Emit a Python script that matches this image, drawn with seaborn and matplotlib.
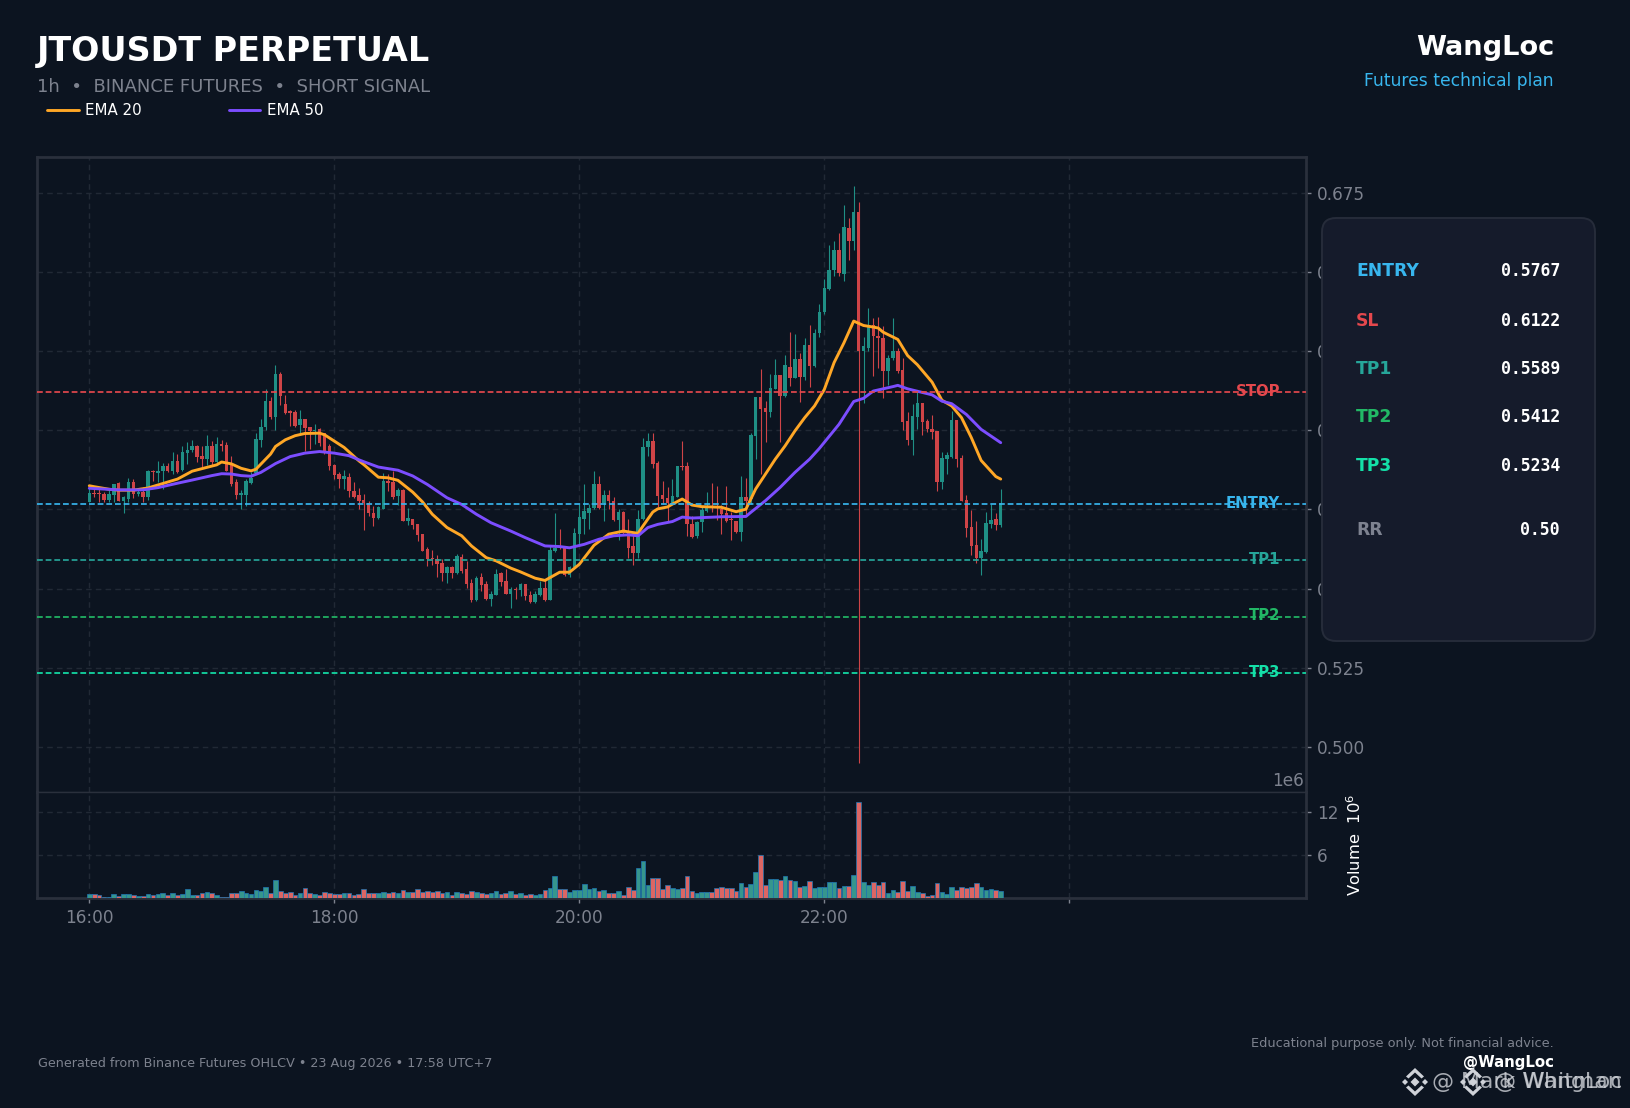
# JTOUSDT perpetual short signal chart (candles, EMA, volume, trade levels)
import numpy as np
import pandas as pd
import matplotlib.pyplot as plt
import seaborn as sns
from matplotlib.patches import FancyBboxPatch, Polygon
from matplotlib.transforms import IdentityTransform

# Candles, one value per bar
opens = [.5775,.5802,.5802,.5799,.5781,.5796,.5833,.5777,.5783,.5836,.5800,.5806,.5789,.5871,.5865,.5871,.5888,.5873,.5903,.5875,
         .5928,.5937,.5950,.5920,.5909,.5950,.5899,.5956,.5953,.5890,.5836,.5796,.5796,.5833,.5865,.5970,.6010,.6092,.6043,.6177,
         .6082,.6060,.6058,.6016,.6035,.6010,.5997,.6003,.5991,.5951,.5890,.5862,.5846,.5852,.5808,.5796,.5779,.5772,.5740,.5722,
         .5753,.5840,.5837,.5792,.5813,.5713,.5719,.5703,.5672,.5624,.5598,.5593,.5580,.5549,.5568,.5549,.5601,.5561,.5517,.5463,
         .5536,.5514,.5467,.5481,.5549,.5523,.5484,.5498,.5496,.5514,.5480,.5457,.5481,.5502,.5464,.5618,.5630,.5630,.5543,.5570,
         .5672,.5721,.5740,.5754,.5829,.5772,.5795,.5778,.5716,.5743,.5682,.5635,.5612,.5719,.5946,.5965,.5897,.5796,.5786,.5772,
         .5789,.5886,.5886,.5704,.5667,.5709,.5746,.5757,.5757,.5752,.5739,.5720,.5713,.5680,.5788,.5783,.5983,.6106,.6072,.6058,
         .6132,.6174,.6108,.6201,.6165,.6224,.6167,.6268,.6203,.6307,.6373,.6445,.6505,.6570,.6495,.6640,.6597,.6688,.6250,.6261,
         .6331,.6299,.6292,.6187,.6227,.6249,.6189,.6028,.5969,.6041,.6085,.6028,.6005,.5998,.5837,.5908,.5916,.6034,.5912,.5779,
         .5694,.5638,.5596,.5615,.5704,.5719,.5701]
closes = [.5802,.5798,.5798,.5781,.5799,.5832,.5777,.5789,.5836,.5799,.5804,.5789,.5871,.5867,.5871,.5887,.5873,.5903,.5869,.5931,
          .5939,.5950,.5915,.5909,.5950,.5899,.5956,.5950,.5872,.5830,.5796,.5802,.5841,.5851,.5972,.6010,.6092,.6041,.6177,.6109,
          .6056,.6056,.6014,.6035,.6006,.5998,.6001,.5959,.5935,.5888,.5859,.5846,.5857,.5808,.5791,.5778,.5772,.5738,.5723,.5757,
          .5840,.5834,.5790,.5813,.5713,.5722,.5700,.5669,.5620,.5595,.5593,.5578,.5549,.5568,.5549,.5603,.5557,.5514,.5463,.5534,
          .5511,.5467,.5483,.5546,.5522,.5484,.5498,.5495,.5514,.5477,.5457,.5483,.5502,.5463,.5622,.5628,.5627,.5543,.5570,.5675,
          .5725,.5744,.5756,.5829,.5756,.5795,.5776,.5717,.5743,.5677,.5630,.5612,.5719,.5948,.5965,.5895,.5793,.5783,.5772,.5793,
          .5886,.5884,.5705,.5664,.5709,.5748,.5757,.5755,.5754,.5736,.5715,.5717,.5678,.5788,.5778,.5985,.6106,.6066,.6058,.6135,
          .6174,.6108,.6205,.6165,.6224,.6167,.6268,.6203,.6308,.6375,.6448,.6507,.6570,.6497,.6643,.6597,.6688,.6250,.6265,.6326,
          .6297,.6291,.6187,.6229,.6249,.6186,.6026,.5969,.6044,.6085,.6026,.6003,.5995,.5837,.5912,.5921,.6034,.5908,.5777,.5692,
          .5636,.5596,.5619,.5707,.5716,.5701,.5770]
highs = [.5825,.5815,.5815,.5804,.5815,.5832,.5836,.5794,.5851,.5846,.5817,.5820,.5875,.5875,.5902,.5896,.5896,.5932,.5925,.5949,
         .5964,.5971,.5953,.5949,.5986,.5967,.5979,.5970,.5962,.5920,.5846,.5811,.5846,.5867,.5990,.6035,.6130,.6106,.6205,.6184,
         .6111,.6064,.6064,.6064,.6037,.6012,.6019,.6006,.5993,.5956,.5893,.5867,.5874,.5865,.5838,.5817,.5798,.5777,.5761,.5761,
         .5866,.5863,.5871,.5819,.5816,.5756,.5721,.5705,.5674,.5633,.5621,.5606,.5593,.5572,.5572,.5611,.5609,.5588,.5530,.5540,
         .5549,.5525,.5493,.5562,.5553,.5561,.5504,.5504,.5517,.5516,.5493,.5493,.5525,.5530,.5635,.5740,.5688,.5635,.5572,.5693,
         .5766,.5829,.5766,.5871,.5855,.5813,.5811,.5790,.5750,.5744,.5719,.5677,.5748,.5976,.5990,.5992,.5903,.5841,.5820,.5846,
         .5886,.5967,.5901,.5730,.5715,.5762,.5804,.5833,.5823,.5763,.5823,.5741,.5715,.5856,.5849,.5993,.6106,.6195,.6093,.6179,
         .6226,.6174,.6239,.6311,.6303,.6245,.6292,.6334,.6321,.6399,.6478,.6585,.6598,.6623,.6711,.6671,.6770,.6721,.6295,.6386,
         .6355,.6358,.6328,.6239,.6355,.6260,.6229,.6059,.6084,.6124,.6087,.6037,.6047,.5999,.5932,.5930,.6061,.6034,.5921,.5795,
         .5749,.5713,.5657,.5741,.5766,.5738,.5814]
lows = [.5775,.5791,.5773,.5773,.5773,.5773,.5777,.5739,.5775,.5785,.5793,.5775,.5779,.5841,.5836,.5815,.5867,.5863,.5865,.5871,
        .5894,.5930,.5901,.5883,.5890,.5890,.5894,.5934,.5872,.5825,.5783,.5752,.5760,.5830,.5862,.5946,.6001,.6035,.6001,.6079,
        .6051,.6014,.6010,.5993,.5935,.5940,.5956,.5951,.5925,.5875,.5846,.5817,.5815,.5791,.5785,.5752,.5685,.5730,.5698,.5719,
        .5750,.5808,.5784,.5763,.5713,.5700,.5688,.5650,.5618,.5572,.5574,.5536,.5524,.5517,.5535,.5547,.5551,.5501,.5457,.5462,
        .5493,.5464,.5444,.5480,.5509,.5482,.5438,.5467,.5477,.5465,.5454,.5454,.5478,.5461,.5463,.5616,.5625,.5540,.5538,.5568,
        .5640,.5672,.5688,.5753,.5750,.5714,.5750,.5714,.5654,.5672,.5597,.5576,.5597,.5716,.5919,.5882,.5759,.5767,.5712,.5767,
        .5788,.5875,.5665,.5659,.5659,.5678,.5743,.5741,.5718,.5673,.5709,.5655,.5675,.5652,.5736,.5767,.5911,.5862,.5964,.6043,
        .6132,.5964,.6106,.6140,.6164,.6090,.6158,.6138,.6201,.6295,.6366,.6442,.6486,.6486,.6471,.6539,.6568,.4950,.6087,.6250,
        .6173,.6197,.6103,.6142,.6221,.6182,.6001,.5953,.5922,.6003,.5985,.5995,.5974,.5807,.5816,.5863,.5914,.5885,.5776,.5664,
        .5606,.5581,.5544,.5614,.5692,.5686,.5696]
volume_m = [.56,.51,.37,.09,.09,.51,.28,.51,.51,.37,.23,.23,.51,.37,.51,.65,.42,.65,.37,.51,
            1.21,.37,.37,.65,.79,.65,.37,.19,.19,.65,.65,.93,.65,.51,1.07,.93,1.49,.65,2.47,.93,
            .65,.79,.37,.65,1.35,.65,.51,.37,.79,.65,.51,.51,.65,.65,.37,.51,1.21,.65,.65,.65,
            .79,.65,.79,.65,1.07,.79,.79,1.21,.79,.93,.79,.93,.65,.79,.37,.79,.65,.51,.93,.79,
            .65,.51,.65,.93,.51,.65,.93,.51,.65,.37,.51,.37,.51,1.07,1.35,3.02,1.21,1.21,.79,1.07,
            1.07,1.91,1.21,1.35,.93,1.07,.65,.65,.93,.37,1.49,1.07,4.14,5.12,1.77,2.74,2.74,1.21,1.77,1.35,
            1.21,1.35,3.02,.93,.65,.79,.79,.79,1.35,1.49,1.35,1.35,.93,2.05,1.49,1.91,3.58,5.95,1.77,2.60,
            2.60,2.47,3.02,2.47,2.33,1.49,1.63,2.33,1.35,1.49,1.49,2.19,2.19,1.35,1.63,1.63,3.16,13.49,2.19,1.77,
            2.19,1.77,2.19,.65,1.07,.79,2.33,.93,1.63,.79,.65,.23,.37,2.05,.79,.51,1.49,1.07,1.49,1.35,
            1.49,2.05,1.49,1.07,1.21,1.07,.93]

# EMA lines read at a set of bars
ema20_x = [0,1,4,6,9,12,15,18,21,24,26,27,29,31,33,34,37,38,40,42,44,47,48,52,55,56,59,61,63,66,68,70,73,76,78,81,83,86,88,91,93,96,98,
           100,103,106,109,111,112,113,115,116,118,119,121,123,125,129,132,134,136,138,140,142,144,146,148,150,152,154,156,158,160,161,162,
           165,167,169,172,174,176,178,180,182,185,186]
ema20 = [.5825,.5822,.5814,.5811,.5811,.5818,.5832,.5846,.5871,.5883,.5891,.5900,.5894,.5880,.5872,.5877,.5925,.5949,.5970,.5983,.5990,.5991,.5986,.5946,.5904,
         .5892,.5852,.5850,.5842,.5805,.5774,.5735,.5693,.5667,.5635,.5598,.5588,.5565,.5553,.5533,.5526,.5552,.5552,.5577,.5637,.5672,.5682,.5677,.5675,.5698,
         .5742,.5752,.5758,.5767,.5783,.5764,.5759,.5757,.5743,.5751,.5815,.5862,.5909,.5951,.5998,.6040,.6077,.6129,.6214,.6276,.6345,.6331,.6326,.6323,.6310,
         .6287,.6236,.6207,.6152,.6095,.6077,.6040,.5977,.5905,.5854,.5846]
ema50_x = [0,6,11,14,18,21,25,27,29,31,33,35,38,41,44,47,50,53,55,56,59,63,66,69,73,76,79,82,86,89,93,96,98,101,104,107,110,112,114,116,
           119,121,123,129,134,135,138,141,144,147,149,153,156,158,160,164,165,167,172,174,176,179,182,186]
ema50 = [.5817,.5812,.5812,.5819,.5833,.5843,.5857,.5863,.5862,.5857,.5855,.5867,.5895,.5917,.5928,.5933,.5928,.5920,.5907,.5901,.5884,.5874,.5856,.5829,
         .5787,.5766,.5735,.5708,.5682,.5661,.5635,.5633,.5629,.5640,.5656,.5667,.5670,.5667,.5693,.5703,.5712,.5726,.5723,.5727,.5728,.5741,.5778,.5820,.5867,
         .5909,.5943,.6019,.6091,.6101,.6124,.6138,.6142,.6131,.6112,.6092,.6084,.6050,.6003,.5961]

# Trade plan
level_names = ['STOP', 'ENTRY', 'TP1', 'TP2', 'TP3']
level_values = [0.6122, 0.5767, 0.5589, 0.5412, 0.5234]
level_colors = ['#e5484d', '#38b6ee', '#26a69a', '#22b866', '#14e0a8']
panel_names = ['ENTRY', 'SL', 'TP1', 'TP2', 'TP3', 'RR']
panel_values = ['0.5767', '0.6122', '0.5589', '0.5412', '0.5234', '0.50']
panel_colors = ['#38b6ee', '#e5484d', '#26a69a', '#22b866', '#14e0a8', '#7d8290']
price_ticks = [0.500, 0.525, 0.550, 0.575, 0.600, 0.625, 0.650, 0.675]
time_ticks = [0, 50, 100, 150, 200]
time_labels = ['16:00', '18:00', '20:00', '22:00', '']

W, H = 1631, 1108
BG = '#0c1420'
GRID = '#212935'
FRAME = '#2a303c'
MUTED = '#7d828e'
CANDLE_UP = '#1f8f85'
CANDLE_DOWN = '#cf4447'
MARK = '#cfd2d8'

sns.set_theme(style='dark', rc={'figure.facecolor': BG, 'axes.facecolor': BG, 'savefig.facecolor': BG})
plt.rcParams['font.family'] = ['DejaVu Sans']

df = pd.DataFrame({'bar': np.arange(len(opens)), 'open': opens, 'high': highs, 'low': lows,
                   'close': closes, 'volume': volume_m})
df['side'] = np.where(df['close'] >= df['open'], 'up', 'down')
df['body'] = (df['close'] - df['open']).abs().clip(lower=0.0003)
df['bottom'] = df[['open', 'close']].min(axis=1)


def add_axes_px(left, top, right, bottom):
    return fig.add_axes([left / W, 1 - bottom / H, (right - left) / W, (bottom - top) / H])


def label(x, y, text, **kw):
    kw.setdefault('va', 'center')
    kw.setdefault('zorder', 6)
    fig.text(x / W, 1 - y / H, text, **kw)


def shape(points):
    fig.add_artist(Polygon(points, transform=IdentityTransform(), facecolor=MARK, edgecolor='none', zorder=7))


fig = plt.figure(figsize=(W / 100, H / 100), dpi=100)
ax = add_axes_px(37, 157, 1306, 792)
ax_vol = add_axes_px(37, 792, 1306, 898)

# price panel
colors = df['side'].map({'up': CANDLE_UP, 'down': CANDLE_DOWN})
ax.vlines(df['bar'], df['low'], df['high'], colors=colors, linewidth=0.8, zorder=2)
ax.bar(df['bar'], df['body'], bottom=df['bottom'], width=0.7, color=colors, linewidth=0, zorder=3)
sns.lineplot(x=ema20_x, y=ema20, ax=ax, color='#ffa726', linewidth=2.1, label='EMA 20', zorder=4)
sns.lineplot(x=ema50_x, y=ema50, ax=ax, color='#7c4dff', linewidth=2.1, label='EMA 50', zorder=4)
for name, value, color in zip(level_names, level_values, level_colors):
    ax.axhline(value, color=color, linewidth=1.3, linestyle=(0, (3.2, 1.6)), alpha=0.95, zorder=5)
    ax.text(243, value + 0.0002, name, color=color, fontsize=10.7, fontweight='bold',
            ha='right', va='center', zorder=5)

ax.set_xlim(-10.67, 248.3)
ax.set_ylim(0.4858, 0.6863)
ax.set_yticks(price_ticks)
ax.set_yticklabels([f'{t:.3f}' for t in price_ticks])
ax.yaxis.tick_right()
ax.set_xticks(time_ticks)
ax.tick_params(axis='x', length=0, labelbottom=False)
ax.tick_params(axis='y', colors=MUTED, labelsize=12.2, length=3.6, width=1, pad=4.3, right=True)
ax.set_xlabel('')
ax.set_ylabel('')
ax.legend(loc='lower left', bbox_to_anchor=(47 / W, 1 - 118 / H), bbox_transform=fig.transFigure, ncol=2,
          frameon=False, fontsize=10.8, labelcolor='white', handlelength=2.1, handletextpad=0.45,
          columnspacing=5.8, borderpad=0, borderaxespad=0)

# volume panel
sns.barplot(data=df, x='bar', y='volume', hue='side', palette={'up': '#26a69a', 'down': '#ef5350'},
            native_scale=True, dodge=False, width=0.95, edgecolor='#1f77b4', linewidth=0.5,
            legend=False, ax=ax_vol, zorder=3)
ax_vol.set_xlim(-10.67, 248.3)
ax_vol.set_ylim(0, 14.83)
ax_vol.set_yticks([6, 12])
ax_vol.set_yticklabels(['6', '12'])
ax_vol.yaxis.tick_right()
ax_vol.set_xticks(time_ticks)
ax_vol.set_xticklabels(time_labels)
ax_vol.tick_params(axis='x', colors=MUTED, labelsize=12.2, length=3.6, width=1, pad=4, bottom=True)
ax_vol.tick_params(axis='y', colors=MUTED, labelsize=12.2, length=3.6, width=1, pad=4.3, right=True)
ax_vol.set_xlabel('')
ax_vol.set_ylabel('')

for a in (ax, ax_vol):
    a.set_axisbelow(True)
    a.grid(True, axis='both', color=GRID, linewidth=1, linestyle=(0, (4, 3)))
    for spine in a.spines.values():
        spine.set_visible(True)
        spine.set_color(FRAME)
        spine.set_linewidth(2)
ax.spines['bottom'].set_linewidth(1)
ax_vol.spines['top'].set_linewidth(1)

# header
label(37, 51, 'JTOUSDT PERPETUAL', color='white', fontsize=24, fontweight='bold')
label(37, 87, '1h  •  BINANCE FUTURES  •  SHORT SIGNAL', color=MUTED, fontsize=13)
label(1554, 48, 'WangLoc', color='white', fontsize=19.6, fontweight='bold', ha='right')
label(1554, 81, 'Futures technical plan', color='#38b6ee', fontsize=12.3, ha='right')

# trade plan card, on top of the tick labels
fig.add_artist(FancyBboxPatch((1336, H - 627), 245, 395, boxstyle='round,pad=14,rounding_size=14',
                              transform=IdentityTransform(), facecolor='#151b2b', edgecolor='#262c3a',
                              linewidth=1.4, zorder=5))
for name, value, color, y in zip(panel_names, panel_values, panel_colors, [271.5, 320.5, 369, 417.5, 466, 530.5]):
    label(1356, y, name, color=color, fontsize=12.3, fontweight='bold')
    label(1560, y, value, color='white', fontsize=11.9, fontweight='bold', family='DejaVu Sans Mono', ha='right')

# volume axis captions
label(1304, 781, '1e6', color=MUTED, fontsize=12.2, ha='right')
label(1355, 845, 'Volume  $10^6$', color='white', fontsize=11.8, rotation=90, ha='center')

# footer
label(38, 1064, 'Generated from Binance Futures OHLCV • 23 Aug 2026 • 17:58 UTC+7', color=MUTED, fontsize=9.15)
label(1554, 1043, 'Educational purpose only. Not financial advice.', color=MUTED, fontsize=9.25, ha='right')
label(1554, 1063, '@WangLoc', color='white', fontsize=10.8, fontweight='bold', ha='right')

# platform watermarks with the diamond logo
for cx in [1415, 1473]:
    cy = H - 1082
    for dx, s in [(-10, 3), (10, 3)]:
        shape([(cx + dx - s, cy), (cx + dx, cy + s), (cx + dx + s, cy), (cx + dx, cy - s)])
    shape([(cx - 4.5, cy), (cx, cy + 4.5), (cx + 4.5, cy), (cx, cy - 4.5)])
    for sign in (1, -1):
        shape([(cx - 9, cy + sign * 5.5), (cx, cy + sign * 14), (cx + 9, cy + sign * 5.5), (cx + 6.5, cy + sign * 3.5),
               (cx, cy + sign * 9.5), (cx - 6.5, cy + sign * 3.5)])
label(1622, 1082, '@ Mark Whitman', color=MARK, fontsize=15.8, ha='right', alpha=0.8, zorder=7)
label(1622, 1082, '@ WangLoc', color=MARK, fontsize=15.8, ha='right', alpha=0.8, zorder=7)

fig.savefig('out.png', dpi=100, facecolor=BG)
